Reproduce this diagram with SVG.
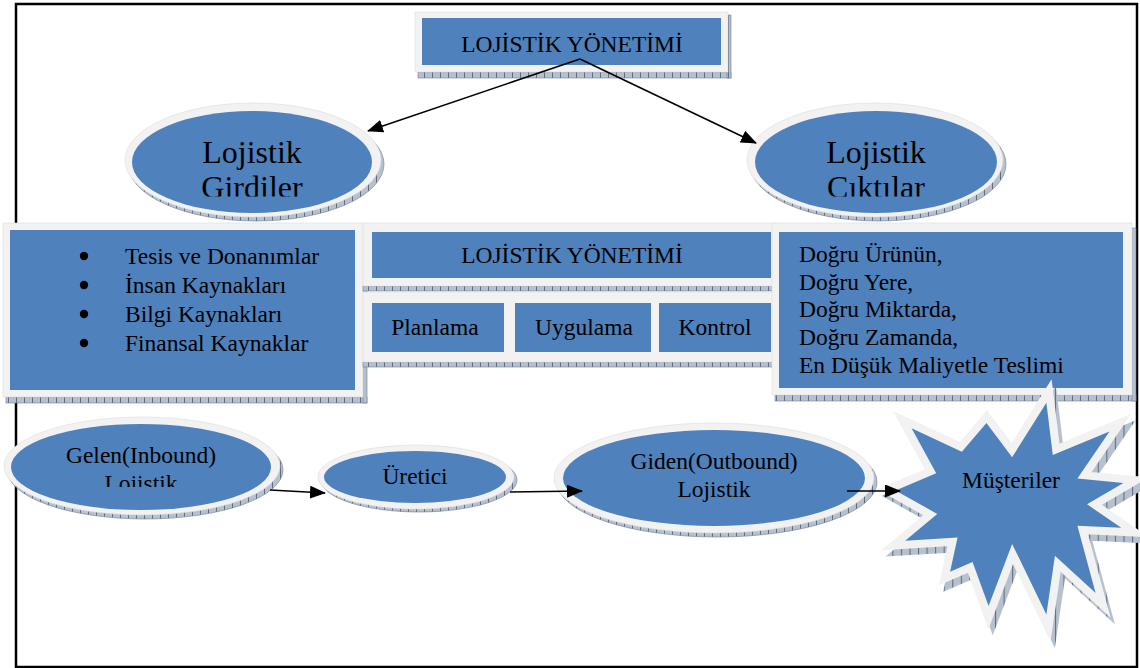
<svg xmlns="http://www.w3.org/2000/svg" width="1140" height="668" viewBox="0 0 1140 668">
  <style>
    .t { font-family: "Liberation Serif", "Times New Roman", serif; font-size: 23.5px; fill: #000; }
    .c { text-anchor: middle; }
    .big { font-size: 32px; }
    .plate { fill: #f2f2f2; stroke: #dcdcdc; stroke-width: 0.6; }
    .blue { fill: #4f81bd; }
    .shade { fill: url(#hatch); stroke: #6f7f95; stroke-width: 0.6; }
    .dot { fill: #000; }
    .wire { stroke: #000; stroke-width: 1.6; fill: none; marker-end: url(#arrow); }
  </style>
  <defs>
    <pattern id="hatch" width="8" height="6" patternUnits="userSpaceOnUse">
      <rect width="8" height="6" fill="#b7c1ce"/>
      <path d="M0.5 0V6" stroke="#5d6d84" stroke-width="1"/>
    </pattern>
    <marker id="arrow" markerUnits="userSpaceOnUse" markerWidth="16" markerHeight="13" refX="15" refY="6.5" orient="auto" viewBox="0 0 16 13">
      <path d="M0 0L16 6.5L0 13Z" fill="#000"/>
    </marker>
    <clipPath id="clipTopText">
      <rect x="0" y="0" width="1140" height="196.5"/>
    </clipPath>
    <clipPath id="clipGelen">
      <rect x="0" y="400" width="400" height="87"/>
    </clipPath>
    <polygon id="burst"
      points="918,434 965,456 988,429 1012,461 1044,410 1050,459 1103,437 1073,481 1116,485 1082,505 1114,527 1073,525 1090,588 1052,553 1044,608 1012,542 990,600 975,559 954,568 961,536 912,539 942,514 903,492 941,476"/>
  </defs>

  <!-- outer frame -->
  <rect x="16" y="4" width="1121" height="663" fill="#fff" stroke="#000" stroke-width="2.5"/>

  <!-- upper ellipses -->
  <g id="girdiler">
    <ellipse class="shade" cx="256" cy="164" rx="128" ry="57"/>
    <ellipse class="plate" cx="253" cy="160" rx="128" ry="57"/>
    <ellipse class="blue" cx="252" cy="162" rx="120" ry="51"/>
    <g clip-path="url(#clipTopText)">
      <text class="t c big" x="252" y="163">Lojistik</text>
      <text class="t c big" x="252" y="198">Girdiler</text>
    </g>
  </g>

  <g id="ciktilar">
    <ellipse class="shade" cx="878" cy="164" rx="128" ry="57"/>
    <ellipse class="plate" cx="875" cy="160" rx="128" ry="57"/>
    <ellipse class="blue" cx="876" cy="162" rx="121" ry="51"/>
    <g clip-path="url(#clipTopText)">
      <text class="t c big" x="876" y="163">Lojistik</text>
      <text class="t c big" x="876" y="198">Çıktılar</text>
    </g>
  </g>

  <!-- top title box -->
  <g id="title">
    <rect class="shade" x="418" y="72" width="313" height="6"/>
    <rect class="shade" x="727" y="15" width="4" height="63"/>
    <rect class="plate" x="415" y="12" width="313" height="60"/>
    <rect class="blue" x="422" y="18" width="299" height="47"/>
    <text class="t c" x="572" y="52">LOJİSTİK YÖNETİMİ</text>
  </g>

  <!-- inputs box -->
  <g id="inputs">
    <rect class="shade" x="6" y="397" width="361" height="6"/>
    <rect class="shade" x="363" y="227" width="4" height="176"/>
    <rect class="plate" x="3" y="223" width="360" height="174"/>
    <rect class="blue" x="10" y="230" width="345" height="160"/>
    <circle class="dot" cx="84" cy="256" r="4.2"/>
    <circle class="dot" cx="84" cy="285" r="4.2"/>
    <circle class="dot" cx="84" cy="314" r="4.2"/>
    <circle class="dot" cx="84" cy="343" r="4.2"/>
    <text class="t" x="125" y="264">Tesis ve Donanımlar</text>
    <text class="t" x="125" y="293">İnsan Kaynakları</text>
    <text class="t" x="125" y="322">Bilgi Kaynakları</text>
    <text class="t" x="125" y="351">Finansal Kaynaklar</text>
  </g>

  <!-- management block -->
  <g id="management">
    <rect class="shade" x="363" y="286" width="414" height="5"/>
    <rect class="plate" x="363" y="223" width="414" height="63"/>
    <rect class="blue" x="372" y="232" width="399" height="46"/>
    <text class="t c" x="572" y="263">LOJİSTİK YÖNETİMİ</text>
  </g>

  <g id="functions">
    <rect class="shade" x="363" y="362" width="414" height="5"/>
    <rect class="plate" x="363" y="292" width="414" height="70"/>
    <g id="planlama">
      <rect class="blue" x="372" y="303" width="132" height="49"/>
      <text class="t c" x="435" y="335">Planlama</text>
    </g>
    <g id="uygulama">
      <rect class="blue" x="515" y="303" width="136" height="49"/>
      <text class="t c" x="584" y="335">Uygulama</text>
    </g>
    <g id="kontrol">
      <rect class="blue" x="659" y="303" width="112" height="49"/>
      <text class="t c" x="715" y="335">Kontrol</text>
    </g>
  </g>

  <!-- outputs box -->
  <g id="outputs">
    <rect class="shade" x="775" y="395" width="361" height="6"/>
    <rect class="shade" x="1132" y="228" width="4" height="173"/>
    <rect class="plate" x="772" y="223" width="360" height="172"/>
    <rect class="blue" x="779" y="232" width="344" height="156"/>
    <text class="t" x="799" y="262">Doğru Ürünün,</text>
    <text class="t" x="799" y="290">Doğru Yere,</text>
    <text class="t" x="799" y="317">Doğru Miktarda,</text>
    <text class="t" x="799" y="345">Doğru Zamanda,</text>
    <text class="t" x="799" y="373">En Düşük Maliyetle Teslimi</text>
  </g>

  <!-- flow row -->
  <g id="gelen">
    <ellipse class="shade" cx="145" cy="470" rx="138" ry="49"/>
    <ellipse class="plate" cx="142" cy="466" rx="138" ry="49"/>
    <ellipse class="blue" cx="141" cy="467" rx="130" ry="43"/>
    <g clip-path="url(#clipGelen)">
      <text class="t c" x="141" y="463">Gelen(Inbound)</text>
      <text class="t c" x="141" y="491">Lojistik</text>
    </g>
  </g>

  <g id="uretici">
    <ellipse class="shade" cx="419" cy="480" rx="98" ry="32"/>
    <ellipse class="plate" cx="416" cy="477" rx="98" ry="32"/>
    <ellipse class="blue" cx="415" cy="477" rx="91" ry="26"/>
    <text class="t c" x="415" y="484">Üretici</text>
  </g>

  <g id="giden">
    <ellipse class="shade" cx="717" cy="482" rx="160" ry="55"/>
    <ellipse class="plate" cx="714" cy="478" rx="160" ry="55"/>
    <ellipse class="blue" cx="714" cy="478" rx="151" ry="48"/>
    <text class="t c" x="714" y="469">Giden(Outbound)</text>
    <text class="t c" x="714" y="497">Lojistik</text>
  </g>

  <g id="musteriler">
    <g transform="translate(1010 515) scale(1.07) translate(-1010 -515)">
      <use href="#burst" transform="translate(4 6)" fill="url(#hatch)" stroke="url(#hatch)" stroke-width="15" stroke-miterlimit="12"/>
      <use href="#burst" fill="#4f81bd" stroke="#f2f2f2" stroke-width="15" stroke-miterlimit="12" paint-order="stroke"/>
    </g>
    <text class="t c" x="1011" y="488">Müşteriler</text>
  </g>

  <!-- connectors -->
  <g id="connectors">
    <line class="wire" x1="580" y1="59" x2="368" y2="131"/>
    <line class="wire" x1="580" y1="59" x2="756" y2="143"/>
    <line class="wire" x1="270" y1="490" x2="325" y2="493"/>
    <line class="wire" x1="510" y1="492" x2="582" y2="491"/>
    <line class="wire" x1="847" y1="491" x2="900" y2="491"/>
  </g>
</svg>
